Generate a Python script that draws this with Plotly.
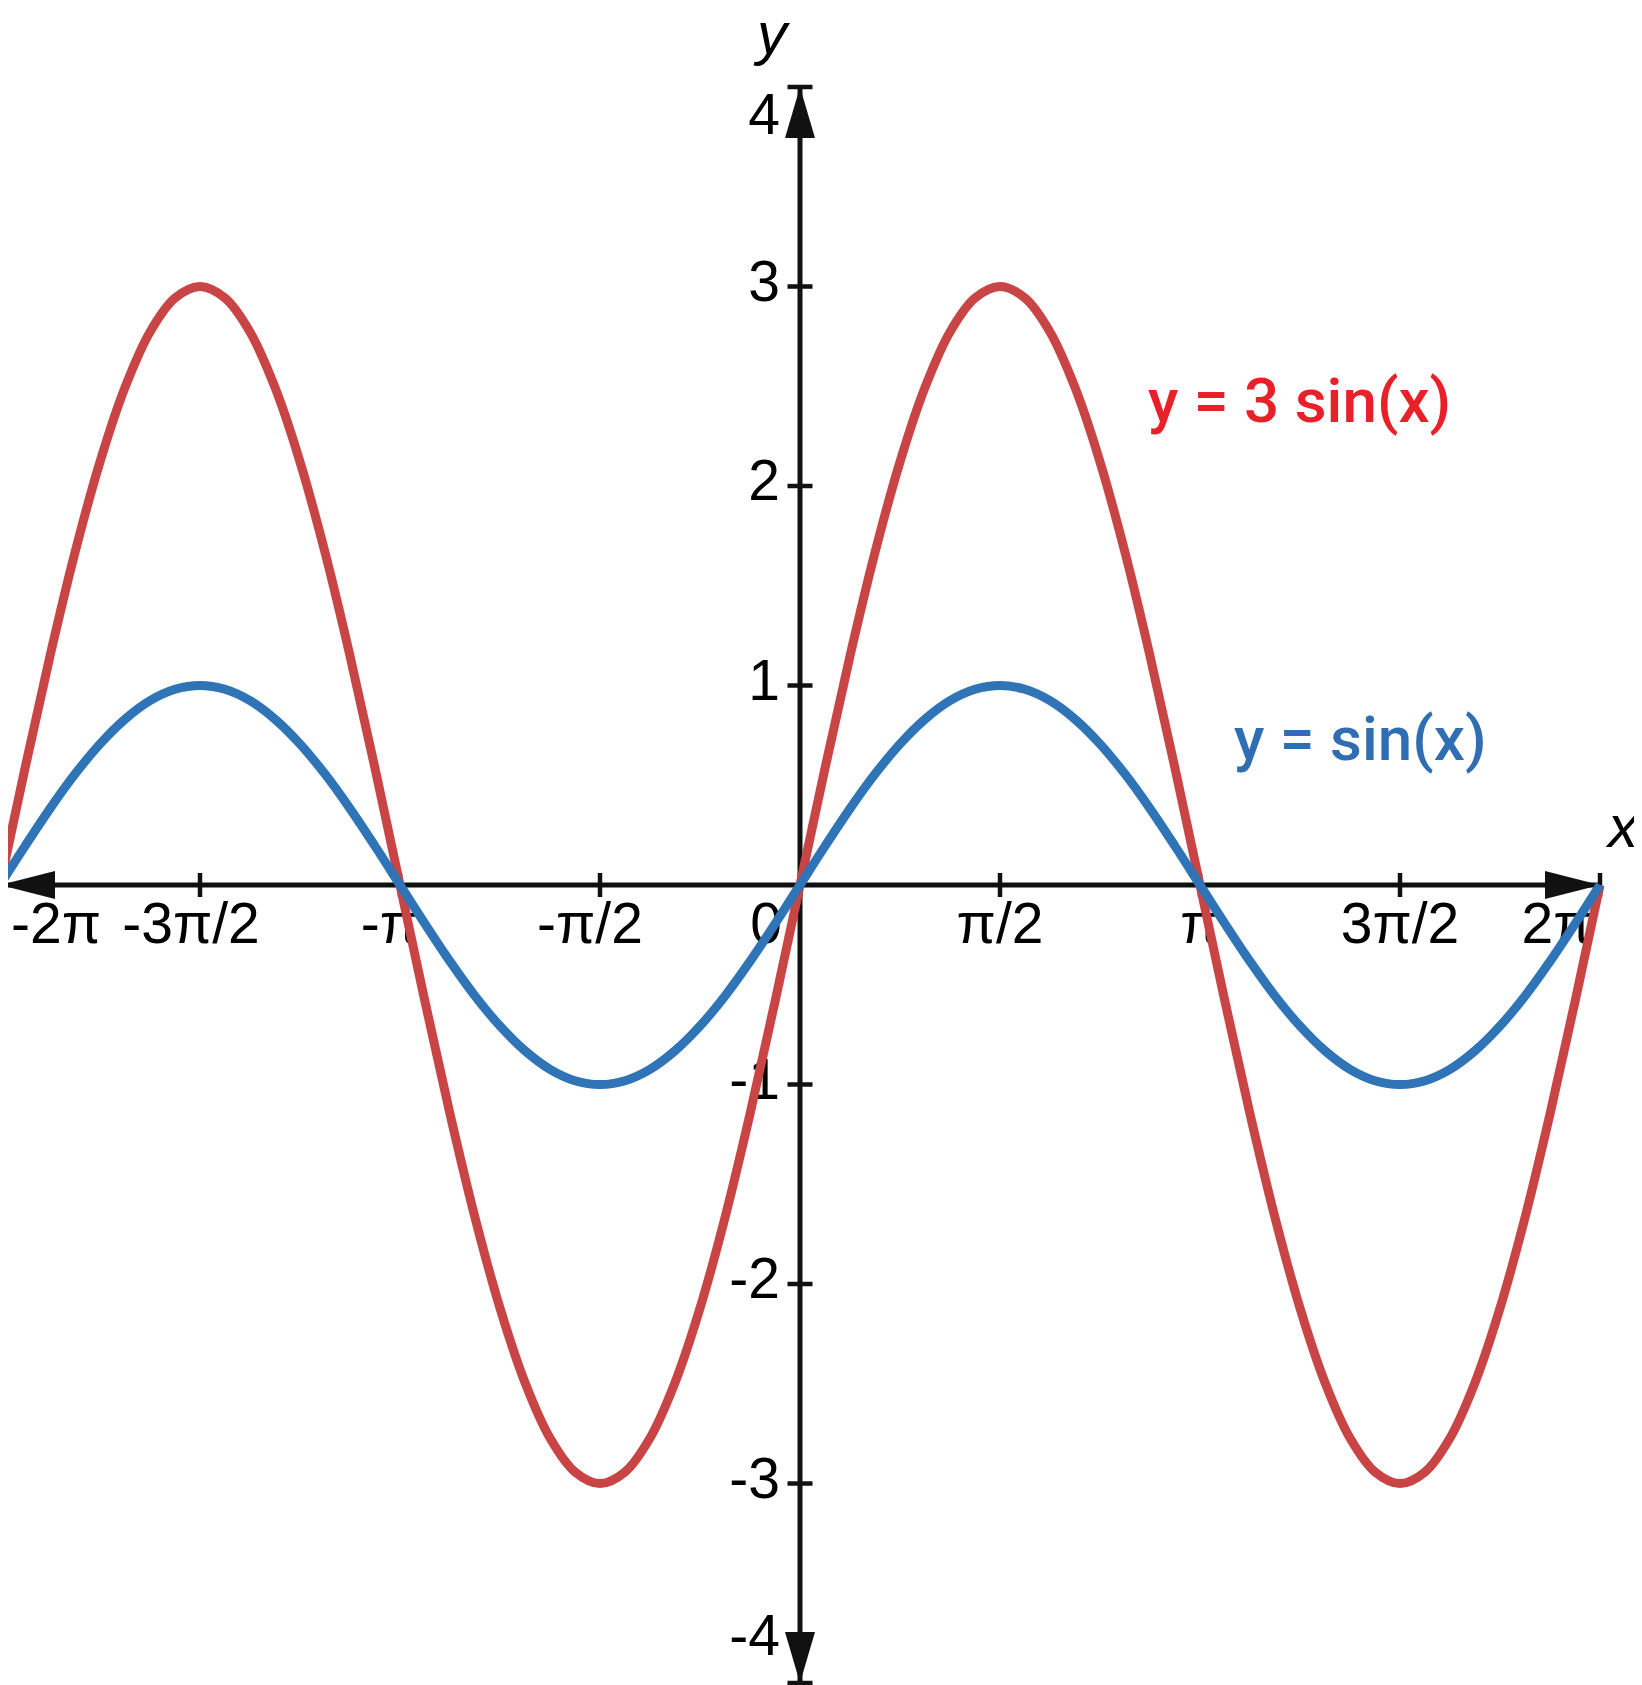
import plotly.graph_objects as go

# ------- data (x in units of pi, step pi/16)
x_pi = [-2.0, -1.9375, -1.875, -1.8125, -1.75, -1.6875, -1.625, -1.5625,
        -1.5, -1.4375, -1.375, -1.3125, -1.25, -1.1875, -1.125, -1.0625,
        -1.0, -0.9375, -0.875, -0.8125, -0.75, -0.6875, -0.625, -0.5625,
        -0.5, -0.4375, -0.375, -0.3125, -0.25, -0.1875, -0.125, -0.0625,
        0.0, 0.0625, 0.125, 0.1875, 0.25, 0.3125, 0.375, 0.4375,
        0.5, 0.5625, 0.625, 0.6875, 0.75, 0.8125, 0.875, 0.9375,
        1.0, 1.0625, 1.125, 1.1875, 1.25, 1.3125, 1.375, 1.4375,
        1.5, 1.5625, 1.625, 1.6875, 1.75, 1.8125, 1.875, 1.9375, 2.0]
sin_vals = [0.0, 0.195, 0.383, 0.556, 0.707, 0.831, 0.924, 0.981,
            1.0, 0.981, 0.924, 0.831, 0.707, 0.556, 0.383, 0.195,
            0.0, -0.195, -0.383, -0.556, -0.707, -0.831, -0.924, -0.981,
            -1.0, -0.981, -0.924, -0.831, -0.707, -0.556, -0.383, -0.195,
            0.0, 0.195, 0.383, 0.556, 0.707, 0.831, 0.924, 0.981,
            1.0, 0.981, 0.924, 0.831, 0.707, 0.556, 0.383, 0.195,
            0.0, -0.195, -0.383, -0.556, -0.707, -0.831, -0.924, -0.981,
            -1.0, -0.981, -0.924, -0.831, -0.707, -0.556, -0.383, -0.195, 0.0]
three_sin_vals = [0.0, 0.585, 1.148, 1.667, 2.121, 2.494, 2.772, 2.942,
                  3.0, 2.942, 2.772, 2.494, 2.121, 1.667, 1.148, 0.585,
                  0.0, -0.585, -1.148, -1.667, -2.121, -2.494, -2.772, -2.942,
                  -3.0, -2.942, -2.772, -2.494, -2.121, -1.667, -1.148, -0.585,
                  0.0, 0.585, 1.148, 1.667, 2.121, 2.494, 2.772, 2.942,
                  3.0, 2.942, 2.772, 2.494, 2.121, 1.667, 1.148, 0.585,
                  0.0, -0.585, -1.148, -1.667, -2.121, -2.494, -2.772, -2.942,
                  -3.0, -2.942, -2.772, -2.494, -2.121, -1.667, -1.148, -0.585, 0.0]

x_ticks = [-2, -1.5, -1, -0.5, 0, 0.5, 1, 1.5, 2]
x_tick_text = ["-2π", "-3π/2", "-π", "-π/2", "0", "π/2", "π", "3π/2", "2π"]
y_ticks = [-4, -3, -2, -1, 1, 2, 3, 4]
y_tick_text = ["-4", "-3", "-2", "-1", "1", "2", "3", "4"]

# ------- layout in page pixels (the page body keeps an 8px margin)
PAGE_W, PAGE_H = 1642, 1685
PAD = 8
W, H = PAGE_W - PAD, PAGE_H - PAD
PX_X = 400.0   # px per pi unit
PX_Y = 199.5   # px per y unit
ORIGIN_X, ORIGIN_Y = 800, 885   # page px of (0, 0)

def dx(px):
    return px / PX_X

def dy(px):
    return px / PX_Y

def at_x(page_px):
    return (page_px - ORIGIN_X) / PX_X

def at_y(page_px):
    return (ORIGIN_Y - page_px) / PX_Y

x_range = [at_x(PAD), at_x(PAGE_W)]
y_range = [at_y(PAGE_H), at_y(PAD)]

RED_LINE = "#c94444"
BLUE_LINE = "#2e74b7"
RED_TEXT = "#e8202a"
BLUE_TEXT = "#2f6eb3"
AXIS = "#111111"
FONT = "Liberation Sans, Arial, sans-serif"
LABEL_FONT = "Roboto, Liberation Sans, sans-serif"

fig = go.Figure()

# tick labels first so the curves sit on top of them
x_shift_px = {"-2π": 56, "-3π/2": -9, "-π": -10, "-π/2": -10, "0": -34, "2π": -43}
lab_x = [v + dx(x_shift_px.get(t, 0)) for v, t in zip(x_ticks, x_tick_text)]
fig.add_trace(go.Scatter(
    x=lab_x, y=[at_y(929)] * len(lab_x), text=x_tick_text, mode="text",
    textposition="middle center", textfont=dict(family=FONT, size=57, color="black"),
    hoverinfo="skip", showlegend=False))

y_shift_px = {"4": -33, "-4": 42}
lab_y = [v + dy(y_shift_px.get(t, 0)) for v, t in zip(y_ticks, y_tick_text)]
fig.add_trace(go.Scatter(
    x=[at_x(780)] * len(lab_y), y=lab_y, text=y_tick_text, mode="text",
    textposition="middle left", textfont=dict(family=FONT, size=57, color="black"),
    hoverinfo="skip", showlegend=False))

fig.add_trace(go.Scatter(
    x=x_pi, y=three_sin_vals, mode="lines",
    line=dict(color=RED_LINE, width=9, shape="spline", smoothing=1),
    hoverinfo="skip", showlegend=False))
fig.add_trace(go.Scatter(
    x=x_pi, y=sin_vals, mode="lines",
    line=dict(color=BLUE_LINE, width=9, shape="spline", smoothing=1),
    hoverinfo="skip", showlegend=False))

# ------- axes drawn by hand
shapes = []
shapes.append(dict(type="line", x0=-2, x1=2, y0=0, y1=0, line=dict(color=AXIS, width=5)))
shapes.append(dict(type="line", x0=0, x1=0, y0=-4, y1=4, line=dict(color=AXIS, width=5)))
for v in x_ticks:
    shapes.append(dict(type="line", x0=v, x1=v, y0=-dy(12), y1=dy(12), line=dict(color=AXIS, width=4.5)))
for v in y_ticks:
    shapes.append(dict(type="line", x0=-dx(12.5), x1=dx(12.5), y0=v, y1=v, line=dict(color=AXIS, width=4.5)))

# arrowheads
al, ah = dx(55), dy(14)
shapes.append(dict(type="path", path=f"M -2,0 L {-2 + al},{ah} L {-2 + al},{-ah} Z",
                   fillcolor=AXIS, line=dict(width=0)))
shapes.append(dict(type="path", path=f"M 2,0 L {2 - al},{ah} L {2 - al},{-ah} Z",
                   fillcolor=AXIS, line=dict(width=0)))
bl, bw = dy(51), dx(15)
shapes.append(dict(type="path", path=f"M 0,4 L {bw},{4 - bl} L {-bw},{4 - bl} Z",
                   fillcolor=AXIS, line=dict(width=0)))
shapes.append(dict(type="path", path=f"M 0,-4 L {bw},{-4 + bl} L {-bw},{-4 + bl} Z",
                   fillcolor=AXIS, line=dict(width=0)))
for s in shapes:
    s["layer"] = "below"

annotations = [
    dict(x=at_x(1299), y=at_y(400), text="y = 3 sin(x)", showarrow=False,
         font=dict(family=LABEL_FONT, size=62, weight=500, color=RED_TEXT),
         xanchor="center", yanchor="middle"),
    dict(x=at_x(1360), y=at_y(738), text="y = sin(x)", showarrow=False,
         font=dict(family=LABEL_FONT, size=62, weight=500, color=BLUE_TEXT),
         xanchor="center", yanchor="middle"),
    dict(x=at_x(1622), y=at_y(826), text="<i>x</i>", showarrow=False,
         font=dict(family=FONT, size=60, color="black"), xanchor="center", yanchor="middle"),
    dict(x=at_x(772), y=at_y(33), text="<i>y</i>", showarrow=False,
         font=dict(family=FONT, size=60, color="black"), xanchor="center", yanchor="middle"),
]

fig.update_layout(
    width=W, height=H,
    margin=dict(l=0, r=0, t=0, b=0),
    paper_bgcolor="white", plot_bgcolor="white",
    xaxis=dict(range=x_range, visible=False, fixedrange=True),
    yaxis=dict(range=y_range, visible=False, fixedrange=True),
    shapes=shapes,
    annotations=annotations,
    showlegend=False,
)

fig.write_html("out.html", config={"displayModeBar": False})
